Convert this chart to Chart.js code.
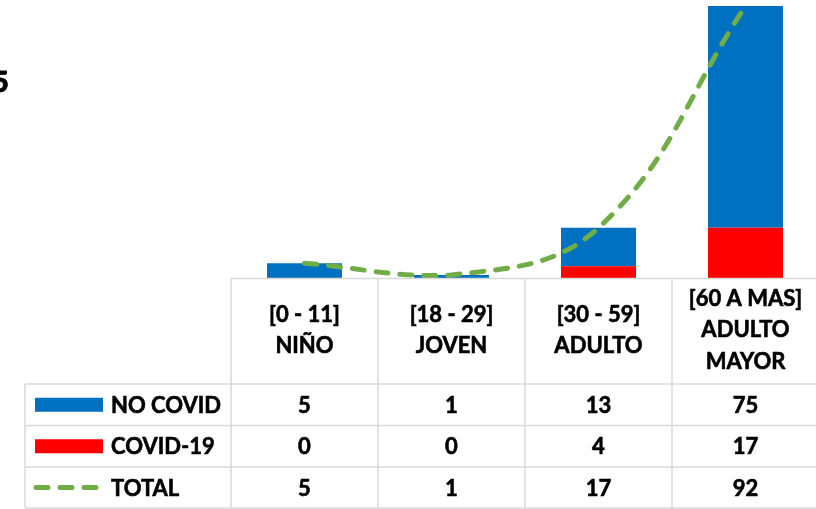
<!DOCTYPE html>
<html>
<head>
<meta charset="utf-8">
<script src="https://cdn.jsdelivr.net/npm/chart.js@4"></script>
<style>
  html, body { margin: 0; padding: 0; background: #fff; overflow: hidden; }
  #wrap { position: absolute; left: 0; top: 0; width: 822px; height: 509px; }
  #cut { position: absolute; left: -8px; top: 63px; font: 900 29px Lato, sans-serif; color: #000; -webkit-text-stroke: 0.8px #000; }
</style>
</head>
<body>
<div id="wrap"><canvas id="ageChart"></canvas></div>
<div id="cut">5</div>
<script>
const categories = [['[0 - 11]', 'NIÑO'], ['[18 - 29]', 'JOVEN'], ['[30 - 59]', 'ADULTO'], ['[60 A MAS]', 'ADULTO', 'MAYOR']];
const noCovid = [5, 1, 13, 75];
const covid19 = [0, 0, 4, 17];
const total = [5, 1, 17, 92];

const BLUE = '#0070c0';
const RED = '#ff0000';
const GREEN = '#70ad47';
const GRID = '#d9d9d9';
const FONT = 'bold 22px Lato, sans-serif';

const ctx = document.getElementById('ageChart').getContext('2d');

// writes text a bit heavier, closer to the original bold face
function boldText(c, t, x, y) {
  c.fillText(t, x, y);
  c.strokeText(t, x, y);
}

// draws the data table under the plot, aligned with the x scale
const dataTable = {
  id: 'dataTable',
  afterDraw(chart) {
    const c = chart.ctx;
    const area = chart.chartArea;
    const n = categories.length;
    const colW = (area.right - area.left) / n;
    const top = area.bottom + 0.5;
    const rows = [384, 425.5, 467, 508];
    const tableLeft = 25;

    c.save();
    c.strokeStyle = GRID;
    c.lineWidth = 1.5;
    c.beginPath();
    c.moveTo(area.left, top);
    c.lineTo(area.right, top);
    for (let i = 0; i <= n; i++) {
      const x = area.left + i * colW;
      c.moveTo(x, top);
      c.lineTo(x, rows[3]);
    }
    rows.forEach(y => {
      c.moveTo(tableLeft, y);
      c.lineTo(area.right, y);
    });
    c.moveTo(tableLeft, rows[0]);
    c.lineTo(tableLeft, rows[3]);
    c.stroke();

    c.fillStyle = '#000';
    c.strokeStyle = '#000';
    c.lineWidth = 0.6;
    c.font = FONT;
    c.textAlign = 'center';
    c.textBaseline = 'middle';

    // header labels
    const headMid = (top + rows[0]) / 2;
    const lh = 31.5;
    categories.forEach((lines, i) => {
      const x = chart.scales.x.getPixelForValue(i);
      const y0 = headMid - (lines.length - 1) * lh / 2 - 1;
      lines.forEach((t, j) => boldText(c, t, x, y0 + j * lh));
    });

    // values
    const series = [noCovid, covid19, total];
    series.forEach((vals, r) => {
      const y = (rows[r] + rows[r + 1]) / 2 + 1;
      vals.forEach((v, i) => {
        boldText(c, String(v), chart.scales.x.getPixelForValue(i), y);
      });
    });

    // legend keys
    const names = ['NO COVID', 'COVID-19', 'TOTAL'];
    c.textAlign = 'left';
    names.forEach((name, r) => {
      const y = (rows[r] + rows[r + 1]) / 2;
      if (r < 2) {
        c.fillStyle = r === 0 ? BLUE : RED;
        c.fillRect(35, y - 7, 68, 14);
      } else {
        c.save();
        c.strokeStyle = GREEN;
        c.lineWidth = 5;
        c.lineCap = 'round';
        c.setLineDash([12, 12]);
        c.beginPath();
        c.moveTo(36, y);
        c.lineTo(100, y);
        c.stroke();
        c.restore();
      }
      c.fillStyle = '#000';
      boldText(c, name, 111, y + 1);
    });
    c.restore();
  }
};

new Chart(ctx, {
  type: 'bar',
  data: {
    labels: categories,
    datasets: [
      {
        type: 'line',
        label: 'TOTAL',
        data: total,
        stack: 'line',
        borderColor: GREEN,
        borderWidth: 5,
        borderDash: [12, 12],
        borderCapStyle: 'round',
        tension: 0.4,
        pointRadius: 0,
        fill: false,
        order: 0
      },
      {
        label: 'COVID-19',
        data: covid19,
        stack: 'bars',
        backgroundColor: RED,
        order: 1
      },
      {
        label: 'NO COVID',
        data: noCovid,
        stack: 'bars',
        backgroundColor: BLUE,
        order: 1
      }
    ]
  },
  options: {
    responsive: true,
    maintainAspectRatio: false,
    animation: false,
    layout: { padding: { left: 231, right: 3, top: 6, bottom: 231 } },
    datasets: { bar: { categoryPercentage: 1, barPercentage: 0.51 } },
    scales: {
      x: { display: false, stacked: true },
      y: { display: false, stacked: true, min: 0, max: 92 }
    },
    plugins: {
      legend: { display: false },
      tooltip: { enabled: false }
    }
  },
  plugins: [dataTable]
});
</script>
</body>
</html>
